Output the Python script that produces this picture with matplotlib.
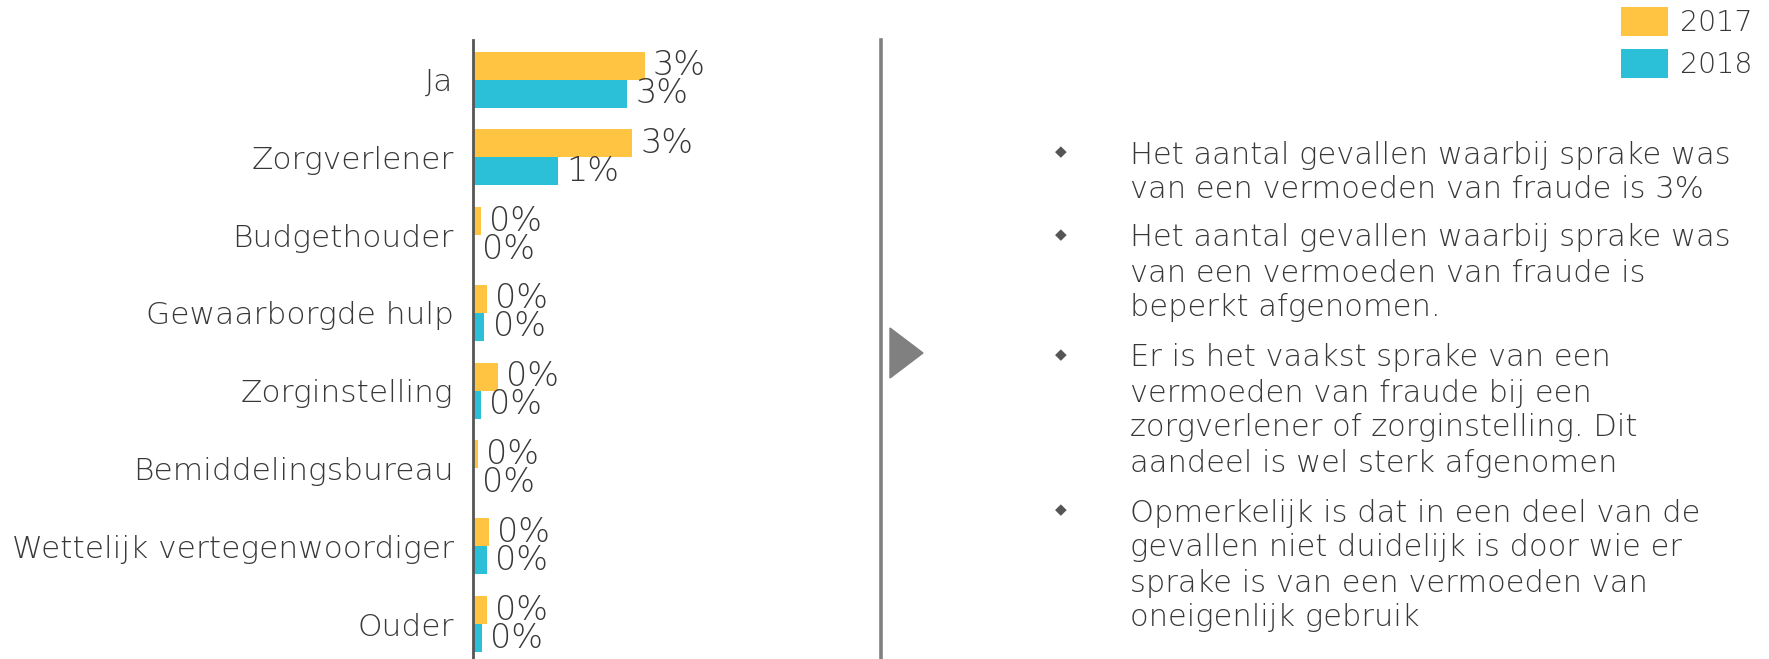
import numpy as np
import matplotlib.pyplot as plt
from matplotlib.patches import Polygon

plt.rcParams['font.family'] = ['DejaVu Sans']

categories = ['Ja', 'Zorgverlener', 'Budgethouder', 'Gewaarborgde hulp',
              'Zorginstelling', 'Bemiddelingsbureau',
              'Wettelijk vertegenwoordiger', 'Ouder']
vals_2017 = [3.0, 2.78, 0.14, 0.24, 0.43, 0.08, 0.28, 0.24]
vals_2018 = [2.7, 1.48, 0.02, 0.20, 0.14, 0.02, 0.24, 0.16]
years = ['2017', '2018']

bullets = [
    ['Het aantal gevallen waarbij sprake was',
     'van een vermoeden van fraude is 3%'],
    ['Het aantal gevallen waarbij sprake was',
     'van een vermoeden van fraude is',
     'beperkt afgenomen.'],
    ['Er is het vaakst sprake van een',
     'vermoeden van fraude bij een',
     'zorgverlener of zorginstelling. Dit',
     'aandeel is wel sterk afgenomen'],
    ['Opmerkelijk is dat in een deel van de',
     'gevallen niet duidelijk is door wie er',
     'sprake is van een vermoeden van',
     'oneigenlijk gebruik'],
]

YELLOW = '#FFC441'
CYAN = '#2CC0D8'
TEXT = '#383838'
WEIGHT = 'light'
W, H = 1769, 659

fig = plt.figure(figsize=(W / 100, H / 100), dpi=100)


def fx(x):
    return x / W


def fy(y):
    return 1 - y / H


# bar chart axes
ax = fig.add_axes([fx(473), 0, fx(343), 1 - 40 / H])
y = np.arange(len(categories))
bh = 0.36
b1 = ax.barh(y - bh / 2, vals_2017, height=bh, color=YELLOW, label=years[0])
b2 = ax.barh(y + bh / 2, vals_2018, height=bh, color=CYAN, label=years[1])
ax.set_xlim(0, 6)
ax.set_ylim(7.45, -0.51)
ax.set_yticks(y)
ax.set_yticklabels(categories, fontsize=22.5, color=TEXT, fontweight=WEIGHT)
ax.tick_params(axis='y', length=0, pad=14)
ax.set_xticks([])
for s in ['top', 'right', 'bottom']:
    ax.spines[s].set_visible(False)
ax.spines['left'].set_color('#555555')
ax.spines['left'].set_linewidth(2)

for bars in (b1, b2):
    for rect in bars:
        v = rect.get_width()
        ax.annotate(f'{v:.0f}%', (v, rect.get_y() + rect.get_height() / 2),
                    xytext=(6, 0), textcoords='offset points',
                    va='center', ha='left', fontsize=24, color=TEXT,
                    fontweight=WEIGHT)

# separator line and arrow
fig.add_artist(plt.Line2D([fx(881), fx(881)], [fy(40), 0], color='#808080', lw=2.6))
fig.add_artist(Polygon([[fx(890), fy(328)], [fx(890), fy(378)], [fx(923), fy(353)]],
                       closed=True, color='#808080', transform=fig.transFigure))

# legend
fig.legend(handles=[b1, b2], labels=years, loc='upper right',
           bbox_to_anchor=(fx(1752), fy(7)), frameon=False,
           handlelength=1.62, handleheight=1.2, labelspacing=0.4,
           handletextpad=0.42, borderpad=0, borderaxespad=0,
           labelcolor=TEXT, prop={'weight': WEIGHT, 'size': 20.5})

# bullet text
starts = [155, 238, 358, 513]
for top, lines in zip(starts, bullets):
    fig.text(fx(1061), fy(top - 3), '\u25C6', fontsize=11, color='#555555',
             ha='center', va='center')
    for i, line in enumerate(lines):
        fig.text(fx(1130), fy(top + 35 * i), line, fontsize=22, color=TEXT,
                 ha='left', va='center', fontweight=WEIGHT)

fig.savefig('out.png', dpi=100)
